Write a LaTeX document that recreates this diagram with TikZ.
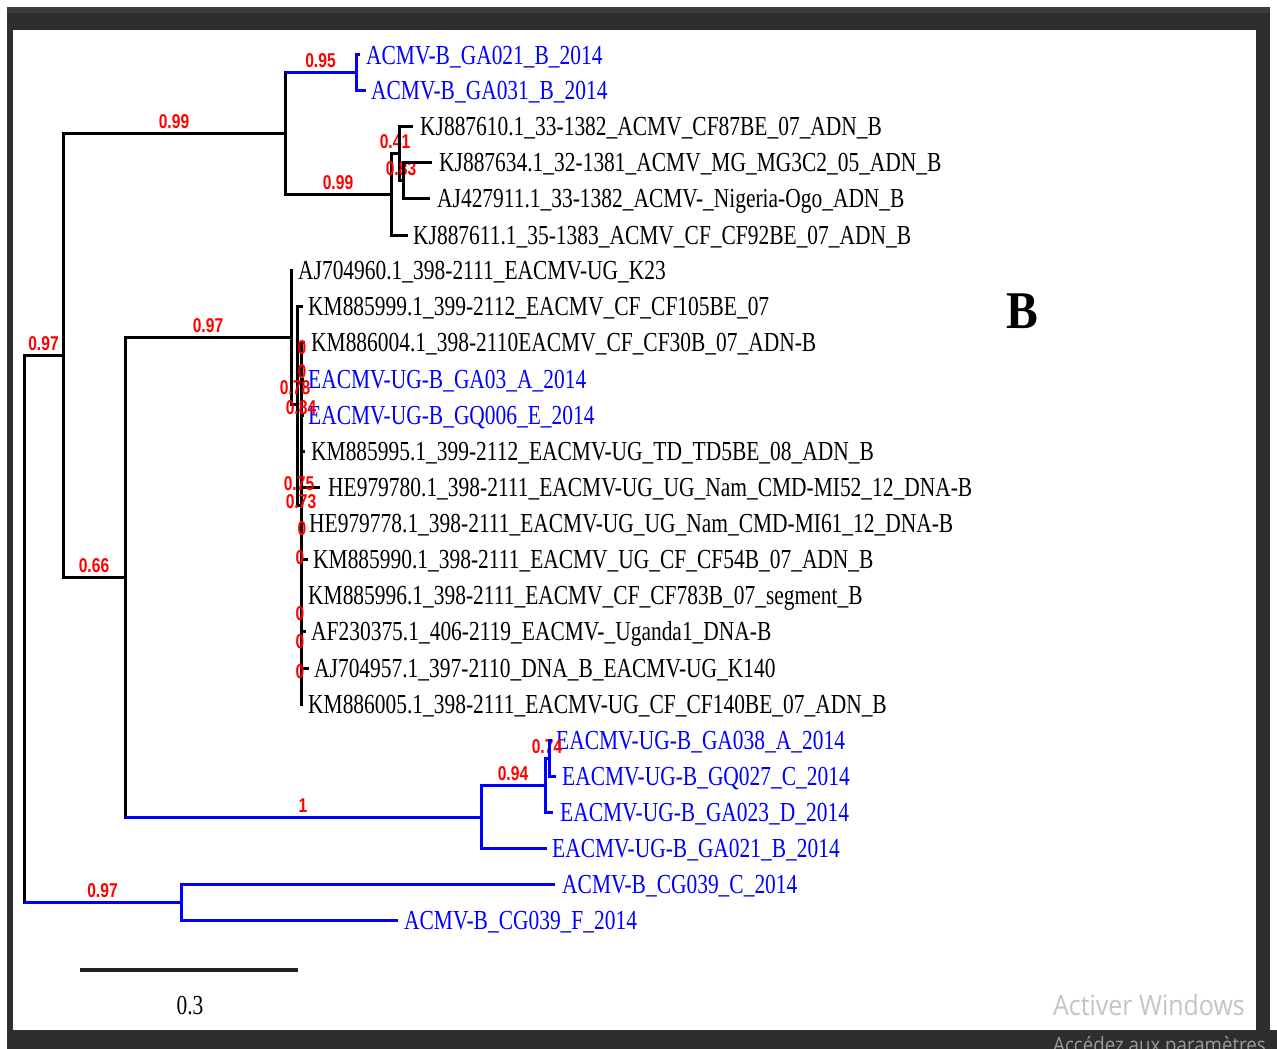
\documentclass[tikz,border=0pt]{standalone}
\usepackage{fontspec}
\setmainfont{Liberation Serif}
\newfontfamily\labfont[FakeStretch=0.78]{Liberation Serif}
\newfontfamily\supfont[FakeStretch=0.78]{Liberation Sans}
\newfontfamily\bigBfont[FakeStretch=0.9]{Liberation Serif}
\newfontfamily\winfont[FakeStretch=0.89]{Open Sans}
\definecolor{framecol}{HTML}{2E2E2E}
\definecolor{frametop}{HTML}{3C3C3C}
\definecolor{wingray}{HTML}{C4C4C4}
\definecolor{wingray2}{HTML}{9A9A9A}
\definecolor{lblue}{HTML}{0000FF}
\definecolor{lred}{HTML}{FF0000}
\definecolor{barcol}{HTML}{222222}
\tikzset{
  br/.style={line width=3pt, draw=black},
  brb/.style={line width=3pt, draw=lblue},
  lab/.style={font=\labfont\fontsize{27.5pt}{30pt}\selectfont, anchor=west, inner sep=0pt, text height=18.3pt, text depth=0pt},
  sup/.style={font=\supfont\bfseries\fontsize{20pt}{22pt}\selectfont, text=lred, inner sep=0pt},
  bsup/.style={sup, anchor=base, yshift=5pt, pos=0.75},
}
\newcommand\leafnode[6]{%
  \coordinate (#1) at (#2,#3);
  \node[lab, text=#6] (#1L) at (#4,#3) {#5};
}
\begin{document}
\begin{tikzpicture}[x=1pt,y=-1pt]
\useasboundingbox (0,0) rectangle (1277,1049);
% frame
\fill[framecol] (7,7) rectangle (1270,1049);
\fill[framecol] (1256,1030) rectangle (1277,1049);
\fill[frametop] (7,7) rectangle (1270,13);
\fill[white] (13,30) rectangle (1256,1030);

% internal nodes
\coordinate (root) at (24,628.5);
\coordinate (n1) at (63,355);
\coordinate (n2) at (181,902);
\coordinate (n3) at (285,133);
\coordinate (n4) at (125,577);
\coordinate (t) at (356,72.5);
\coordinate (a) at (391,194);
\coordinate (b) at (399,153);
\coordinate (c) at (403,180);
\coordinate (p) at (291,337);
\coordinate (q) at (297,404);
\coordinate (q2) at (301,505);
\coordinate (d) at (481,817);
\coordinate (e) at (545,785);
\coordinate (f) at (549,758);

% leaves
\leafnode{ga021}{360}{55}{366}{ACMV-B\_GA021\_B\_2014}{lblue}
\leafnode{ga031}{366}{90}{371}{ACMV-B\_GA031\_B\_2014}{lblue}
\leafnode{kj610}{413}{126}{420}{KJ887610.1\_33-1382\_ACMV\_CF87BE\_07\_ADN\_B}{black}
\leafnode{kj634}{432}{162}{439}{KJ887634.1\_32-1381\_ACMV\_MG\_MG3C2\_05\_ADN\_B}{black}
\leafnode{aj911}{430}{198}{437}{AJ427911.1\_33-1382\_ACMV-\_Nigeria-Ogo\_ADN\_B}{black}
\leafnode{kj611}{408}{235}{413}{KJ887611.1\_35-1383\_ACMV\_CF\_CF92BE\_07\_ADN\_B}{black}
\leafnode{aj960}{293}{270}{298}{AJ704960.1\_398-2111\_EACMV-UG\_K23}{black}
\leafnode{km999}{303}{306}{308}{KM885999.1\_399-2112\_EACMV\_CF\_CF105BE\_07}{black}
\leafnode{km004}{305}{342}{311}{KM886004.1\_398-2110EACMV\_CF\_CF30B\_07\_ADN-B}{black}
\leafnode{ga03}{304}{379}{308}{EACMV-UG-B\_GA03\_A\_2014}{lblue}
\leafnode{gq006}{304}{415}{308}{EACMV-UG-B\_GQ006\_E\_2014}{lblue}
\leafnode{km995}{305}{451}{311}{KM885995.1\_399-2112\_EACMV-UG\_TD\_TD5BE\_08\_ADN\_B}{black}
\leafnode{he780}{320}{487}{328}{HE979780.1\_398-2111\_EACMV-UG\_UG\_Nam\_CMD-MI52\_12\_DNA-B}{black}
\leafnode{he778}{303}{523}{309}{HE979778.1\_398-2111\_EACMV-UG\_UG\_Nam\_CMD-MI61\_12\_DNA-B}{black}
\leafnode{km990}{308}{559}{313}{KM885990.1\_398-2111\_EACMV\_UG\_CF\_CF54B\_07\_ADN\_B}{black}
\leafnode{km996}{303}{595}{308}{KM885996.1\_398-2111\_EACMV\_CF\_CF783B\_07\_segment\_B}{black}
\leafnode{af375}{306}{631}{311}{AF230375.1\_406-2119\_EACMV-\_Uganda1\_DNA-B}{black}
\leafnode{aj957}{309}{668}{314}{AJ704957.1\_397-2110\_DNA\_B\_EACMV-UG\_K140}{black}
\leafnode{km005}{303}{704}{308}{KM886005.1\_398-2111\_EACMV-UG\_CF\_CF140BE\_07\_ADN\_B}{black}
\leafnode{ga038}{552}{740}{556}{EACMV-UG-B\_GA038\_A\_2014}{lblue}
\leafnode{gq027}{556}{776}{562}{EACMV-UG-B\_GQ027\_C\_2014}{lblue}
\leafnode{ga023}{553}{812}{560}{EACMV-UG-B\_GA023\_D\_2014}{lblue}
\leafnode{ega021}{547}{848}{552}{EACMV-UG-B\_GA021\_B\_2014}{lblue}
\leafnode{cgc}{555}{884}{562}{ACMV-B\_CG039\_C\_2014}{lblue}
\leafnode{cgf}{398}{920}{404}{ACMV-B\_CG039\_F\_2014}{lblue}

% branches (blue branches from black parents: vertical part black, horizontal part blue)
\draw[br]  (root) |- node[bsup] (s1) {0.97} (n1);
\draw[br]  (root) |- (n2);
\draw[brb] (root |- n2) -- node[bsup, pos=0.5] (s2) {0.97} (n2);
\draw[br]  (n1) |- node[bsup] (s3) {0.99} (n3);
\draw[br]  (n1) |- node[bsup] (s4) {0.66} (n4);
\draw[br]  (n3) |- (t);
\draw[brb] (n3 |- t) -- node[bsup, pos=0.5] (s5) {0.95} (t);
\draw[br]  (n3) |- node[bsup] (s6) {0.99} (a);
\draw[br]  (a) |- node[bsup] (s7) {0.41} (b);
\draw[br]  (a) |- (kj611);
\draw[br]  (b) |- (kj610);
\draw[br]  (b) |- node[bsup] (s8) {0.83} (c);
\draw[br]  (c) |- (kj634);
\draw[br]  (c) |- (aj911);
\draw[brb] (t) |- (ga021);
\draw[brb] (t) |- (ga031);
\draw[br]  (n4) |- node[bsup] (s9) {0.97} (p);
\draw[br]  (n4) |- (d);
\draw[brb] (n4 |- d) -- node[bsup, pos=0.5] (s10) {1} (d);
\draw[br]  (p) |- (aj960);
\draw[br]  (p) |- (q);
\draw[br]  (q) |- (km999);
\draw[br]  (q) |- (q2);
\foreach \lf in {km004,ga03,gq006,km995,he780,he778,km990,km996,af375,aj957,km005}
  \draw[br] (q2) |- (\lf);
\draw[brb] (d) |- node[bsup] (s11) {0.94} (e);
\draw[brb] (d) |- (ega021);
\draw[brb] (e) |- node[bsup] (s12) {0.74} (f);
\draw[brb] (e) |- (ga023);
\draw[brb] (f) |- (ga038);
\draw[brb] (f) |- (gq027);
\draw[brb] (n2) |- (cgc);
\draw[brb] (n2) |- (cgf);

% support values inside the EACMV cluster
\node[sup] (z1) at (302,348) {0};
\node[sup] (z2) at (302,372) {0};
\node[sup] (z3) at (295,388) {0.78};
\node[sup] (z4) at (301,408) {0.84};
\node[sup] (z5) at (299,484) {0.75};
\node[sup] (z6) at (301,502) {0.73};
\node[sup] (z7) at (302,529) {0};
\node[sup] (z8) at (300,558) {0};
\node[sup] (z9) at (300,614) {0};
\node[sup] (z10) at (300,642) {0};
\node[sup] (z11) at (300,672) {0};

% scale bar
\coordinate (sb1) at (80,970);
\coordinate (sb2) at (298,970);
\draw[line width=4pt, barcol] (sb1) -- (sb2);
\node[lab, anchor=center] (sbl) at (190,1005) {0.3};

% panel letter
\node[font=\bigBfont\bfseries\fontsize{53pt}{56pt}\selectfont, inner sep=0pt] (panelB) at (1022,311) {B};

% watermark
\node[font=\winfont\fontsize{28pt}{30pt}\selectfont, text=wingray, anchor=base west, inner sep=0pt] (win1) at (1053,1015) {Activer Windows};
\node[font=\winfont\fontsize{21pt}{23pt}\selectfont, text=wingray2, anchor=base west, inner sep=0pt] (win2) at (1053,1052) {Accédez aux paramètres};
\end{tikzpicture}
\end{document}
